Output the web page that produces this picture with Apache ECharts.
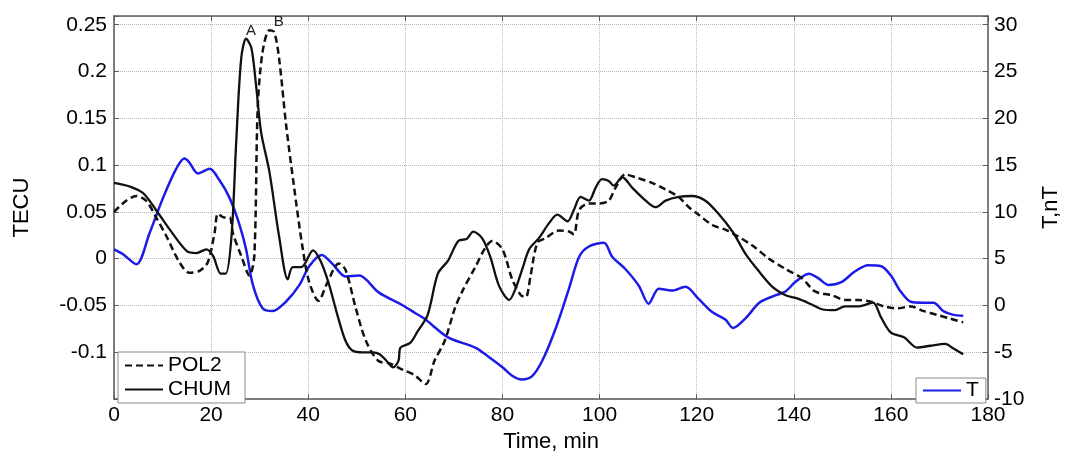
<!DOCTYPE html>
<html>
<head>
<meta charset="utf-8">
<script src="https://cdn.jsdelivr.net/npm/echarts@6/dist/echarts.min.js"></script>
<style>
  html, body { margin: 0; padding: 0; background: #fff; }
  #chart { width: 1071px; height: 458px; }
</style>
</head>
<body>
<div id="chart"></div>
<script>
// CHUM (solid black), TECU
const chumTime = [0, 3.3, 6, 8.8, 11.5, 15, 17, 19, 20.4, 22, 23, 24.2, 25.2, 26.2, 27.2, 28.3, 29.3, 30.3, 32, 34,
    35.8, 36.8, 38.6, 41, 42.5, 44.2, 46, 47.7, 49.1, 51.2, 53.3, 54.7, 56.1, 57.5, 58.6, 59, 61, 62.5, 64.6, 66.7,
    68.8, 70.9, 72.6, 74, 75.8, 77.5, 79.3, 81.4, 82.7, 84.1, 85.5, 87.5, 89.6, 91.3, 93.4, 94.7, 96.1, 97.8, 99.2, 100.5,
    101.9, 102.9, 104.7, 106.7, 109.5, 111.5, 113.6, 116.3, 119, 121.8, 124.5, 127.5, 130.2, 132.9, 135.6, 138.3, 141, 143.7, 145.8, 148.5,
    150.5, 153.2, 156.3, 158, 160, 162.7, 165.4, 168.1, 171.2, 172.9, 174.9];
const chumTecu = [0.081, 0.077, 0.070, 0.051, 0.031, 0.008, 0.006, 0.010, 0.003, -0.016, -0.016, 0.024, 0.128, 0.214, 0.235, 0.225, 0.183, 0.135, 0.093, 0.024,
    -0.022, -0.009, -0.009, 0.009, -0.002, -0.026, -0.060, -0.088, -0.098, -0.100, -0.100, -0.102, -0.109, -0.116, -0.109, -0.095, -0.090, -0.078, -0.060, -0.016,
    -0.002, 0.019, 0.021, 0.029, 0.022, 0.002, -0.029, -0.044, -0.032, -0.011, 0.010, 0.022, 0.038, 0.047, 0.040, 0.052, 0.066, 0.062, 0.076, 0.085,
    0.083, 0.078, 0.087, 0.076, 0.062, 0.055, 0.062, 0.066, 0.067, 0.062, 0.048, 0.028, 0.004, -0.014, -0.030, -0.039, -0.043, -0.049, -0.054, -0.055,
    -0.051, -0.051, -0.047, -0.063, -0.079, -0.084, -0.095, -0.093, -0.091, -0.096, -0.102];

// POL2 (dashed black), TECU
const pol2Time = [0, 2.5, 4.6, 6.6, 8.7, 10.8, 13.5, 15.5, 17.6, 19.3, 20.7, 21.4, 22.7, 23.8, 24.5, 26.2, 27.9, 28.9, 29.6, 30.6,
    32, 33, 34, 35.4, 37.1, 38.8, 40.2, 42.1, 43.9, 46.3, 47.7, 49.8, 51.9, 54.4, 56.8, 59.6, 61.8, 64.2, 66, 68.1,
    70.2, 71.9, 74.4, 76.5, 77.9, 80, 82, 83.8, 84.8, 85.8, 87.2, 88.9, 91.6, 93.7, 94.7, 95.8, 97.8, 99.9, 101.9, 103.3,
    105.3, 107.4, 110.8, 113.6, 116.3, 118.4, 120.4, 123.2, 125.9, 128.1, 131.5, 134.9, 138.3, 141.7, 144.4, 147.8, 150.5, 153.2, 155.9, 158.6,
    161.4, 164.1, 166.8, 169.5, 172.2, 174.9];
const pol2Tecu = [0.050, 0.062, 0.067, 0.062, 0.044, 0.024, -0.004, -0.015, -0.013, -0.004, 0.027, 0.048, 0.044, 0.044, 0.027, 0.003, -0.018, 0.003, 0.162, 0.221,
    0.244, 0.242, 0.214, 0.145, 0.076, 0.013, -0.025, -0.045, -0.026, -0.005, -0.012, -0.053, -0.088, -0.109, -0.112, -0.119, -0.124, -0.134, -0.109, -0.088,
    -0.053, -0.033, -0.009, 0.012, 0.019, 0.010, -0.022, -0.039, -0.041, -0.018, 0.017, 0.022, 0.030, 0.029, 0.026, 0.052, 0.059, 0.059, 0.062, 0.076,
    0.090, 0.087, 0.081, 0.074, 0.066, 0.055, 0.047, 0.036, 0.031, 0.025, 0.014, 0.000, -0.011, -0.021, -0.035, -0.039, -0.044, -0.044, -0.046, -0.051,
    -0.053, -0.051, -0.056, -0.060, -0.064, -0.068];

// T (blue), nT on the right axis
const tTime = [0, 1.8, 4.6, 7.3, 10.1, 12.8, 14.5, 15.5, 17.3, 19.7, 21.7, 23.8, 25.8, 27.2, 28.6, 30.6, 32.7, 35.4, 38.2, 40.2,
    42.8, 44.9, 47.7, 50.5, 54.5, 59.5, 62, 63.9, 68.8, 74.4, 77.2, 80, 82, 84, 86, 88.2, 91, 93.7, 95.8, 97.8,
    100.9, 102.6, 105.3, 108.1, 110.1, 112.2, 114.9, 117.7, 120.4, 123.2, 125.9, 127.5, 130.2, 132.9, 136.3, 138.3, 140.3, 143.1, 145.1, 147.1,
    149.8, 152.5, 155.3, 158, 160, 162, 164.1, 166.8, 168.8, 170.8, 172.9, 174.9];
const tField = [6.0, 5.5, 4.4, 7.7, 11.5, 14.6, 15.7, 15.3, 14.1, 14.6, 13.4, 11.5, 8.7, 6.0, 2.2, -0.3, -0.6, 0.4, 2.2, 4.2,
    5.4, 4.5, 3.1, 3.2, 1.4, 0.0, -0.8, -1.4, -3.4, -4.5, -5.5, -6.6, -7.5, -7.9, -7.6, -5.9, -2.4, 1.8, 5.2, 6.3,
    6.7, 5.2, 3.9, 2.1, 0.2, 1.8, 1.6, 2.0, 0.7, -0.7, -1.5, -2.4, -1.3, 0.3, 1.1, 1.5, 2.5, 3.4, 2.9, 2.2,
    2.5, 3.6, 4.3, 4.2, 3.2, 1.5, 0.4, 0.3, 0.3, -0.6, -1.0, -1.1];

// peak markers
const peakA = [27.2, 0.235];
const peakB = [32.3, 0.246];

const font = "'Liberation Sans', Arial, sans-serif";
const frameColor = "#5a5a5a";

function pair(xs, ys) {
    return xs.map((x, i) => [x, ys[i]]);
}

function tickText(v, step, lo, hi) {
    // Matlab style: only the round ticks, no trailing zeros
    const k = Math.round(v / step);
    if (Math.abs(v - k * step) > step * 0.01) return "";
    if (v < lo - 1e-9 || v > hi + 1e-9) return "";
    return String(parseFloat((k * step).toFixed(2)));
}

const myChart = echarts.init(document.getElementById("chart"));

const legendBox = {
    itemWidth: 38,
    itemHeight: 14,
    borderColor: "#8a8a8a",
    borderWidth: 1,
    backgroundColor: "#fff",
    itemStyle: { opacity: 0 },
    textStyle: { fontSize: 21, color: "#000", fontFamily: font }
};

const option = {
    animation: false,
    backgroundColor: "#fff",
    textStyle: { fontFamily: font },
    grid: { left: 114, right: 83, top: 16, bottom: 48 },
    legend: [
        Object.assign({}, legendBox, {
            data: ["POL2", "CHUM"],
            orient: "vertical",
            left: 118,
            top: 352,
            padding: [3, 14, 3, 6],
            itemGap: 3
        }),
        Object.assign({}, legendBox, {
            data: ["T"],
            left: 916,
            top: 378,
            padding: [2, 7, 2, 6]
        })
    ],
    xAxis: [
        {
            type: "value",
            position: "bottom",
            min: 0,
            max: 180,
            interval: 20,
            name: "Time, min",
            nameLocation: "middle",
            nameGap: 28,
            nameTextStyle: { fontSize: 22, color: "#000", fontFamily: font },
            axisLine: { show: true, onZero: false, lineStyle: { color: frameColor, width: 1.5 } },
            axisTick: { show: true, inside: true, length: 5, lineStyle: { color: frameColor } },
            axisLabel: { fontSize: 21, color: "#000", margin: 6, fontFamily: font },
            splitLine: { show: true, lineStyle: { type: "dotted", color: "#b8b8b8", width: 1 } }
        },
        {
            type: "value",
            position: "top",
            min: 0,
            max: 180,
            interval: 20,
            axisLine: { show: true, onZero: false, lineStyle: { color: frameColor, width: 1.5 } },
            axisTick: { show: true, inside: true, length: 5, lineStyle: { color: frameColor } },
            axisLabel: { show: false },
            splitLine: { show: false }
        }
    ],
    yAxis: [
        {
            type: "value",
            position: "left",
            min: -0.15,
            max: 0.2593,
            interval: 0.05,
            name: "TECU",
            nameLocation: "middle",
            nameGap: 81,
            nameTextStyle: { fontSize: 22, color: "#000", fontFamily: font },
            axisLine: { show: true, onZero: false, lineStyle: { color: frameColor, width: 1.5 } },
            axisTick: { show: true, inside: true, length: 5, lineStyle: { color: frameColor } },
            axisLabel: {
                fontSize: 21, color: "#000", margin: 7, fontFamily: font,
                formatter: v => tickText(v, 0.05, -0.1, 0.25)
            },
            splitLine: { show: true, lineStyle: { type: "dotted", color: "#b8b8b8", width: 1 } }
        },
        {
            type: "value",
            position: "right",
            min: -10,
            max: 30.93,
            interval: 5,
            name: "T,nT",
            nameLocation: "middle",
            nameGap: 52,
            nameRotate: 90,
            nameTextStyle: { fontSize: 22, color: "#000", fontFamily: font },
            axisLine: { show: true, onZero: false, lineStyle: { color: frameColor, width: 1.5 } },
            axisTick: { show: true, inside: true, length: 5, lineStyle: { color: frameColor } },
            axisLabel: {
                fontSize: 21, color: "#000", margin: 6, fontFamily: font,
                formatter: v => tickText(v, 5, -10, 30)
            },
            splitLine: { show: false }
        }
    ],
    series: [
        {
            name: "POL2",
            type: "line",
            xAxisIndex: 0,
            yAxisIndex: 0,
            data: pair(pol2Time, pol2Tecu),
            showSymbol: false,
            symbol: "none",
            smooth: 0.3,
            lineStyle: { color: "#111", width: 2.5, type: [7, 4] },
            itemStyle: { color: "#111" },
            markPoint: {
                symbol: "circle",
                symbolSize: 1,
                itemStyle: { color: "rgba(0,0,0,0)" },
                label: { show: true, formatter: "B", position: "inside", offset: [8, -7], fontSize: 15, color: "#222", fontFamily: font },
                data: [{ coord: peakB }]
            },
            z: 3
        },
        {
            name: "CHUM",
            type: "line",
            xAxisIndex: 0,
            yAxisIndex: 0,
            data: pair(chumTime, chumTecu),
            showSymbol: false,
            symbol: "none",
            smooth: 0.3,
            lineStyle: { color: "#111", width: 2.3 },
            itemStyle: { color: "#111" },
            markPoint: {
                symbol: "circle",
                symbolSize: 1,
                itemStyle: { color: "rgba(0,0,0,0)" },
                label: { show: true, formatter: "A", position: "inside", offset: [5, -8], fontSize: 15, color: "#222", fontFamily: font },
                data: [{ coord: peakA }]
            },
            z: 4
        },
        {
            name: "T",
            type: "line",
            xAxisIndex: 0,
            yAxisIndex: 1,
            data: pair(tTime, tField),
            showSymbol: false,
            symbol: "none",
            smooth: 0.3,
            lineStyle: { color: "#1c1ce6", width: 2.5 },
            itemStyle: { color: "#1c1ce6" },
            z: 2
        }
    ]
};

myChart.setOption(option);
</script>
</body>
</html>
